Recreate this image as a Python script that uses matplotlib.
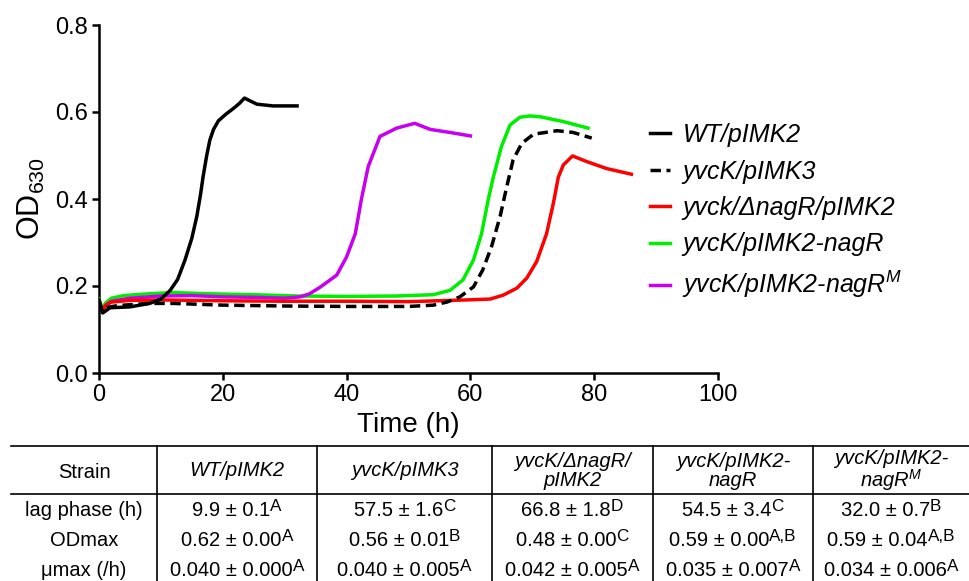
import numpy as np
import matplotlib
matplotlib.use('Agg')
import matplotlib.pyplot as plt

plt.rcParams['font.family'] = ['Liberation Sans', 'DejaVu Sans']
plt.rcParams['mathtext.fontset'] = 'custom'
plt.rcParams['mathtext.rm'] = 'Liberation Sans'
plt.rcParams['mathtext.it'] = 'Liberation Sans:italic'

# ── growth curves ───────────────────────────────────────────
wt_t  = [0, 0.6, 1.8, 5, 8.2, 10, 11.5, 12.7, 13.9, 15, 15.8, 16.4, 16.8,
         17.4, 17.9, 18.5, 19.3, 20.5, 21.7, 22.7, 23.5, 24.5, 25.5, 28.1, 32]
wt_od = [0.168, 0.138, 0.150, 0.152, 0.160, 0.170, 0.190, 0.215, 0.26, 0.31,
         0.36, 0.41, 0.45, 0.50, 0.535, 0.56, 0.58, 0.595, 0.608, 0.62, 0.632,
         0.625, 0.618, 0.614, 0.614]

k3_t  = [0, 0.6, 1, 3, 8, 12, 20, 30, 40, 50, 54, 56.2, 58.3, 60.5, 62, 63.4,
         64.8, 65.9, 66.9, 68.3, 70.2, 74, 76.6, 79.6]
k3_od = [0.160, 0.140, 0.150, 0.155, 0.160, 0.160, 0.156, 0.154, 0.153, 0.153,
         0.156, 0.163, 0.175, 0.198, 0.237, 0.29, 0.36, 0.43, 0.49, 0.528,
         0.549, 0.557, 0.553, 0.540]

dn_t  = [0, 0.6, 1, 2, 5, 10, 20, 30, 40, 50, 59.4, 63.2, 65.3, 67.5, 69.1,
         70.7, 72.3, 73.4, 74.2, 75, 76.5, 78.8, 82, 86]
dn_od = [0.165, 0.140, 0.155, 0.163, 0.167, 0.168, 0.166, 0.165, 0.165, 0.164,
         0.168, 0.170, 0.179, 0.195, 0.218, 0.256, 0.32, 0.39, 0.45, 0.478,
         0.499, 0.486, 0.470, 0.457]

nr_t  = [0, 0.6, 1, 2, 4, 8, 12, 18, 25, 32, 40, 48, 54, 56.7, 58.8, 60.5,
         61.8, 62.9, 63.7, 65, 66.4, 68, 69.6, 71.3, 75, 79]
nr_od = [0.170, 0.145, 0.160, 0.172, 0.178, 0.182, 0.185, 0.182, 0.180, 0.177,
         0.176, 0.177, 0.180, 0.190, 0.214, 0.26, 0.32, 0.40, 0.45, 0.52, 0.57,
         0.588, 0.591, 0.589, 0.578, 0.563]

nm_t  = [0, 0.6, 1, 2, 5, 10, 15, 20, 25, 30, 32.5, 34, 35.7, 38.4, 40, 41.4,
         42.4, 43.5, 45.4, 48.1, 51, 53.5, 56.7, 60]
nm_od = [0.160, 0.140, 0.155, 0.165, 0.172, 0.177, 0.178, 0.175, 0.174, 0.172,
         0.175, 0.182, 0.197, 0.225, 0.267, 0.32, 0.40, 0.475, 0.544, 0.563,
         0.574, 0.560, 0.553, 0.545]

# ── table ───────────────────────────────────────────────────
row_names = ['Strain', 'lag phase (h)', 'ODmax', 'μmax (/h)']
strains = ['WT/pIMK2', 'yvcK/pIMK3', 'yvcK/ΔnagR/\npIMK2',
           'yvcK/pIMK2-\nnagR', 'yvcK/pIMK2-\nnagR$^{M}$']
lag_vals  = ['9.9 ± 0.1', '57.5 ± 1.6', '66.8 ± 1.8', '54.5 ± 3.4', '32.0 ± 0.7']
lag_grp   = ['A', 'C', 'D', 'C', 'B']
odmax_vals = ['0.62 ± 0.00', '0.56 ± 0.01', '0.48 ± 0.00', '0.59 ± 0.00', '0.59 ± 0.04']
odmax_grp  = ['A', 'B', 'C', 'A,B', 'A,B']
mu_vals = ['0.040 ± 0.000', '0.040 ± 0.005', '0.042 ± 0.005', '0.035 ± 0.007', '0.034 ± 0.006']
mu_grp  = ['A', 'A', 'A', 'A', 'A']

PURPLE = '#C800F0'

fig = plt.figure(figsize=(9.7, 5.81), dpi=100)
fig.patch.set_facecolor('white')
ax = fig.add_axes([99/970, 208/581, 619/970, 348/581])

lw = 2.5
ax.plot(nr_t, nr_od, color='#00EE00', lw=lw, label='yvcK/pIMK2-nagR', zorder=3)
ax.plot(nm_t, nm_od, color=PURPLE, lw=lw, label='yvcK/pIMK2-nagR$^{M}$', zorder=3)
ax.plot(dn_t, dn_od, color='#FF0000', lw=lw, label='yvck/ΔnagR/pIMK2', zorder=4)
ax.plot(k3_t, k3_od, color='black', lw=lw, ls=(0, (3.0, 1.6)), label='yvcK/pIMK3', zorder=5)
ax.plot(wt_t, wt_od, color='black', lw=lw, label='WT/pIMK2', zorder=6)

ax.set_xlim(0, 100)
ax.set_ylim(0, 0.8)
ax.set_xticks([0, 20, 40, 60, 80, 100])
ax.set_yticks([0.0, 0.2, 0.4, 0.6, 0.8])
ax.set_yticklabels(['0.0', '0.2', '0.4', '0.6', '0.8'])
ax.spines[['top', 'right']].set_visible(False)
for s in ['left', 'bottom']:
    ax.spines[s].set_linewidth(1.8)
ax.tick_params(labelsize=17, width=1.8, length=5, pad=3)
ax.set_xlabel('Time (h)', fontsize=20, labelpad=4)
ax.set_ylabel('OD$_{\\mathrm{630}}$', fontsize=22, labelpad=6)

h, l = ax.get_legend_handles_labels()
order = [4, 3, 2, 0, 1]
ax.legend([h[i] for i in order], [l[i] for i in order],
          loc='upper left', bbox_to_anchor=(650/970, 1 - 123/581),
          bbox_transform=fig.transFigure, frameon=False,
          prop={'style': 'italic', 'size': 18}, handlelength=0.8,
          handletextpad=0.5, labelspacing=0.5, borderpad=0, borderaxespad=0)

# ── table drawn in pixel coordinates ────────────────────────
tab = fig.add_axes([0, 0, 1, 1])
tab.set_xlim(0, 970)
tab.set_ylim(581, 0)
tab.axis('off')

col_edges = [11, 157, 317, 492, 653, 813, 969]
top, head_bot, bottom = 446, 494, 581
row_base = [516, 546, 576]

tab.plot([col_edges[0], col_edges[-1]], [top, top], color='black', lw=1.2)
tab.plot([col_edges[0], col_edges[-1]], [head_bot, head_bot], color='black', lw=1.2)
for xe in col_edges[1:-1]:
    tab.plot([xe, xe], [top, bottom], color='black', lw=1.2)

centers = [(a + b) / 2 for a, b in zip(col_edges[:-1], col_edges[1:])]
fs = 14.5
tab.text(centers[0], 472, row_names[0], ha='center', va='center', fontsize=fs)
for r, name in enumerate(row_names[1:]):
    tab.text(centers[0], row_base[r], name, ha='center', va='baseline', fontsize=fs)

for j, s in enumerate(strains):
    tab.text(centers[j + 1], 471, s, ha='center', va='center',
             fontsize=fs, style='italic', linespacing=0.95)

renderer = fig.canvas.get_renderer()
for r, (vals, grps) in enumerate([(lag_vals, lag_grp), (odmax_vals, odmax_grp), (mu_vals, mu_grp)]):
    for j, (v, g) in enumerate(zip(vals, grps)):
        t1 = tab.text(0, row_base[r], v, ha='left', va='baseline', fontsize=fs)
        t2 = tab.text(0, row_base[r] - 5, g, ha='left', va='baseline', fontsize=fs * 0.85)
        w1 = t1.get_window_extent(renderer).width
        w2 = t2.get_window_extent(renderer).width
        x0 = centers[j + 1] - (w1 + w2) / 2
        t1.set_x(x0)
        t2.set_x(x0 + w1)

fig.savefig('out.png', dpi=100, facecolor='white')
